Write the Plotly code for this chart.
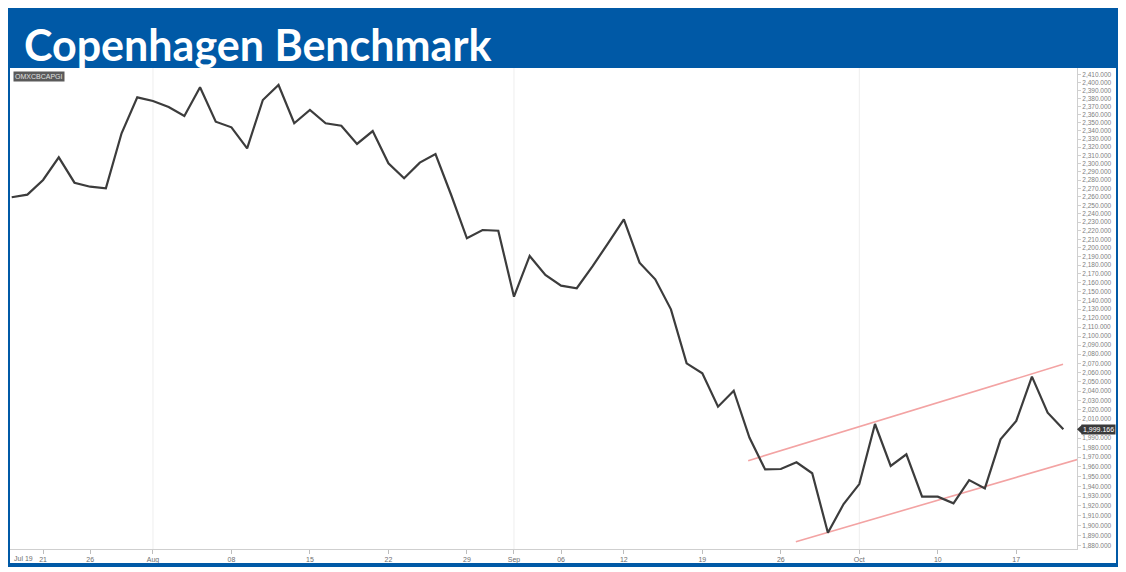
import math
import plotly.graph_objects as go

# ---------------- data ----------------
dates = [
    "2018-07-19", "2018-07-20", "2018-07-23", "2018-07-24", "2018-07-25", "2018-07-26", "2018-07-27",
    "2018-07-30", "2018-07-31",
    "2018-08-01", "2018-08-02", "2018-08-03", "2018-08-06", "2018-08-07", "2018-08-08", "2018-08-09",
    "2018-08-10", "2018-08-13", "2018-08-14", "2018-08-15", "2018-08-16", "2018-08-17", "2018-08-20",
    "2018-08-21", "2018-08-22", "2018-08-23", "2018-08-24", "2018-08-27", "2018-08-28", "2018-08-29",
    "2018-08-30", "2018-08-31",
    "2018-09-03", "2018-09-04", "2018-09-05", "2018-09-06", "2018-09-07", "2018-09-10", "2018-09-11",
    "2018-09-12", "2018-09-13", "2018-09-14", "2018-09-17", "2018-09-18", "2018-09-19", "2018-09-20",
    "2018-09-21", "2018-09-24", "2018-09-25", "2018-09-26", "2018-09-27", "2018-09-28",
    "2018-10-01", "2018-10-02", "2018-10-03", "2018-10-04", "2018-10-05", "2018-10-08", "2018-10-09",
    "2018-10-10", "2018-10-11", "2018-10-12", "2018-10-15", "2018-10-16", "2018-10-17", "2018-10-18",
    "2018-10-19", "2018-10-22",
]

values = [
    2259.5, 2262.6, 2280.2, 2307.6, 2276.9, 2272.1, 2270.2, 2337.0, 2381.8, 2377.2,
    2369.7, 2358.5, 2394.4, 2351.4, 2344.4, 2318.6, 2378.4, 2397.3, 2349.4, 2365.9,
    2349.4, 2346.4, 2323.9, 2339.8, 2300.3, 2282.2, 2301.1, 2311.6, 2262.2, 2211.1,
    2220.8, 2220.0, 2144.1, 2190.6, 2168.7, 2156.5, 2153.6, 2178.5, 2205.6, 2233.4,
    2182.8, 2163.8, 2129.8, 2070.0, 2059.2, 2023.2, 2040.3, 1990.6, 1957.3, 1957.8,
    1964.7, 1953.4, 1893.1, 1921.9, 1942.3, 2004.8, 1960.9, 1973.0, 1929.4, 1929.4,
    1922.7, 1946.4, 1937.9, 1988.7, 2008.0, 2055.5, 2016.8, 1999.166,
]

tick_dates = ["2018-07-23", "2018-07-26", "2018-08-01", "2018-08-08", "2018-08-15",
              "2018-08-22", "2018-08-29", "2018-09-03", "2018-09-06", "2018-09-12", "2018-09-19",
              "2018-09-26", "2018-10-03", "2018-10-10", "2018-10-17"]
tick_labels = ["21", "26", "Aug", "08", "15", "22", "29", "Sep",
               "06", "12", "19", "26", "Oct", "10", "17"]
first_label = "Jul 19"
month_starts = ["2018-08-01", "2018-09-03", "2018-10-03"]
# price-axis ticks every 10 points; 2,000 is covered by the last-price tag in the reference
y_ticks = [v for v in range(1880, 2420, 10) if v != 2000]

# channel (trend) lines: positions in trading-day index, values in index points
upper_x = [46.92, 66.98]
upper_y = [1966.4, 2068.9]
lower_x = [49.96, 67.92]
lower_y = [1884.1, 1967.8]

title_text = "Copenhagen Benchmark"
symbol_text = "OMXCBCAPGI"
last_value = values[-1]

# ---------------- figure ----------------
idx = {d: i for i, d in enumerate(dates)}
x_idx = list(range(len(dates)))

Y_LO, Y_HI = 1876.9, 2418.9
lo, hi = math.log10(Y_LO), math.log10(Y_HI)
X_RANGE = [-0.108, 67.87]

BLUE = "#0059a6"
TICK_FONT = "Liberation Sans, Arial"

fig = go.Figure()
fig.add_trace(go.Scatter(x=upper_x, y=upper_y, mode="lines",
                         line=dict(color="#f3a3a3", width=1.6), hoverinfo="skip"))
fig.add_trace(go.Scatter(x=lower_x, y=lower_y, mode="lines",
                         line=dict(color="#f3a3a3", width=1.6), hoverinfo="skip"))
fig.add_trace(go.Scatter(x=x_idx, y=values, mode="lines", customdata=dates,
                         line=dict(color="#3c3c3c", width=2.2),
                         hovertemplate="%{customdata}: %{y:,.3f}<extra></extra>"))

shapes = []
for d in month_starts:
    shapes.append(dict(type="line", xref="x", yref="paper", x0=idx[d], x1=idx[d], y0=0, y1=1,
                       line=dict(color="#eeeeee", width=1), layer="below"))


# page-pixel -> paper helpers (plot area spans page x 10..1077, y 68..549)
def px_x(p):
    return (p - 10) / 1067.0


def px_y(p):
    return (549 - p) / 481.0


shapes += [
    dict(type="rect", xref="paper", yref="paper", x0=px_x(6), x1=px_x(1120), y0=px_y(68), y1=px_y(6),
         fillcolor=BLUE, line=dict(width=0)),
    dict(type="rect", xref="paper", yref="paper", x0=px_x(6), x1=px_x(10), y0=px_y(567), y1=px_y(6),
         fillcolor=BLUE, line=dict(width=0)),
    dict(type="rect", xref="paper", yref="paper", x0=px_x(1116), x1=px_x(1120), y0=px_y(567), y1=px_y(6),
         fillcolor=BLUE, line=dict(width=0)),
    dict(type="rect", xref="paper", yref="paper", x0=px_x(6), x1=px_x(1120), y0=px_y(567), y1=px_y(563),
         fillcolor=BLUE, line=dict(width=0)),
]

yp = (math.log10(last_value) - lo) / (hi - lo)
shapes.append(dict(type="path", xref="paper", yref="paper",
                   path=f"M {px_x(1077)} {yp} L {px_x(1082)} {yp + 4.6/481} L {px_x(1082)} {yp - 4.6/481} Z",
                   fillcolor="#3a3a3a", line=dict(width=0)))

annotations = [
    dict(text=f"<b>{title_text}</b>", xref="paper", yref="paper", x=px_x(22), y=px_y(45),
         xanchor="left", yanchor="middle", showarrow=False,
         font=dict(family="Lato", size=43, color="white")),
    dict(text=symbol_text, xref="paper", yref="paper", x=px_x(13), y=px_y(71),
         xanchor="left", yanchor="top", showarrow=False, bgcolor="#5a5a5a",
         font=dict(family=TICK_FONT, size=7, color="#e0e0e0"), borderpad=1),
    dict(text=f"{last_value:,.3f}", xref="paper", yref="paper", x=px_x(1081), y=yp,
         xanchor="left", yanchor="middle", showarrow=False, bgcolor="#3a3a3a",
         font=dict(family=TICK_FONT, size=7, color="#ffffff"), borderpad=1),
    dict(text=first_label, xref="paper", yref="paper", x=px_x(12), y=px_y(553),
         xanchor="left", yanchor="top", showarrow=False,
         font=dict(family=TICK_FONT, size=7, color="#707070")),
]

fig.update_layout(
    width=1118, height=564,
    margin=dict(l=2, r=49, t=60, b=23),
    paper_bgcolor="white", plot_bgcolor="white",
    showlegend=False,
    shapes=shapes, annotations=annotations,
    xaxis=dict(range=X_RANGE, tickmode="array", tickvals=[idx[d] for d in tick_dates],
               ticktext=tick_labels, showgrid=False, zeroline=False,
               showline=True, linecolor="#cfcfcf", linewidth=1,
               ticks="outside", ticklen=4, tickcolor="#bdbdbd",
               tickfont=dict(family=TICK_FONT, size=7, color="#707070")),
    yaxis=dict(type="log", range=[lo, hi], side="right", tickmode="array", tickvals=y_ticks,
               tickformat=",.3f", showgrid=False, zeroline=False,
               showline=True, linecolor="#cfcfcf", linewidth=1,
               ticks="outside", ticklen=3, tickcolor="#d0d0d0",
               tickfont=dict(family=TICK_FONT, size=6.5, color="#808080")),
)

fig.write_html("out.html")
